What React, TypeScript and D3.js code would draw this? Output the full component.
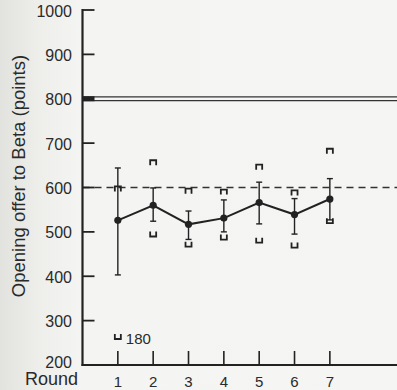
import React from "react";
import * as d3 from "d3";

const rounds = [1, 2, 3, 4, 5, 6, 7];
const means = [526, 560, 517, 531, 566, 539, 574];
const errLow = [403, 524, 483, 500, 518, 495, 527];
const errHigh = [644, 599, 547, 572, 612, 575, 620];
const maxVals = [599, 658, 594, 592, 648, 590, 684];
const minVals = [180, 493, 470, 486, 479, 468, 523];
const yTicks = [200, 300, 400, 500, 600, 700, 800, 900, 1000];
const referenceHigh = 800;
const referenceMid = 600;
const offScaleShownAt = 262; // where the off-scale minimum (180) is drawn
const yLabel = "Opening offer to Beta (points)";
const xLabel = "Round";

const W = 397;
const H = 390;
const FONT = "'Liberation Sans', Arial, Helvetica, sans-serif";
const INK = "#222";

export default function App() {
  const x = d3.scaleLinear().domain([0, 8.9]).range([82.5, 397]);
  const y = d3.scaleLinear().domain([200, 1000]).range([365, 10]);
  const x0 = x(0);
  const line = d3
    .line<number>()
    .x((_, i) => x(rounds[i]))
    .y((d) => y(d));

  const shownMin = (v: number) => (v < 200 ? offScaleShownAt : v);

  return (
    <svg
      width={W}
      height={H}
      style={{ position: "absolute", left: 0, top: 0, display: "block" }}
    >
      <defs>
        <linearGradient id="paper" x1="0" x2="1" y1="0" y2="0">
          <stop offset="0" stopColor="#e2e2de" />
          <stop offset="0.1" stopColor="#eeeeeb" />
          <stop offset="0.2" stopColor="#f4f4f2" />
          <stop offset="1" stopColor="#f5f5f3" />
        </linearGradient>
      </defs>
      <rect x={0} y={0} width={W} height={H} fill="url(#paper)" />

      {/* reference lines */}
      <line x1={x0} x2={W} y1={y(referenceHigh) - 1.8} y2={y(referenceHigh) - 1.8} stroke="#333" strokeWidth={1.3} />
      <line x1={x0} x2={W} y1={y(referenceHigh) + 1.8} y2={y(referenceHigh) + 1.8} stroke="#333" strokeWidth={1.3} />
      <line
        x1={x0}
        x2={W}
        y1={y(referenceMid)}
        y2={y(referenceMid)}
        stroke="#333"
        strokeWidth={1.4}
        strokeDasharray="7 5"
      />

      {/* axes */}
      <line x1={x0} x2={x0} y1={y(1000) - 1} y2={y(200) + 1} stroke={INK} strokeWidth={2.2} />
      <line x1={x0 - 1} x2={W} y1={y(200)} y2={y(200)} stroke={INK} strokeWidth={2} />
      {yTicks.map((t) => (
        <g key={t}>
          {t > 200 && (
            <line
              x1={x0}
              x2={x0 + 12}
              y1={y(t)}
              y2={y(t)}
              stroke={INK}
              strokeWidth={t === referenceHigh ? 5 : 1.8}
            />
          )}
          <text
            x={72}
            y={t === 200 ? y(t) - 3 : y(t) + 1}
            textAnchor="end"
            dominantBaseline="central"
            fontFamily={FONT}
            fontSize={16}
            fill="#2a2a2a"
          >
            {t}
          </text>
        </g>
      ))}
      {rounds.map((r) => (
        <g key={r}>
          <line x1={x(r)} x2={x(r)} y1={y(200)} y2={y(200) - 14} stroke={INK} strokeWidth={1.6} />
          <text
            x={x(r)}
            y={387}
            textAnchor="middle"
            fontFamily={FONT}
            fontSize={15}
            fill="#2a2a2a"
          >
            {r}
          </text>
        </g>
      ))}
      <text x={78} y={385} textAnchor="end" fontFamily={FONT} fontSize={18} fill="#2a2a2a">
        {xLabel}
      </text>
      <text
        transform={`translate(25, 176) rotate(-90)`}
        textAnchor="middle"
        fontFamily={FONT}
        fontSize={18.5}
        fill="#2a2a2a"
      >
        {yLabel}
      </text>

      {/* error bars */}
      {rounds.map((r, i) => (
        <g key={"e" + r} stroke={INK} strokeWidth={1.4} fill="none">
          <line x1={x(r)} x2={x(r)} y1={y(errLow[i])} y2={y(errHigh[i])} />
          <line x1={x(r) - 3} x2={x(r) + 3} y1={y(errLow[i])} y2={y(errLow[i])} />
          <line x1={x(r) - 3} x2={x(r) + 3} y1={y(errHigh[i])} y2={y(errHigh[i])} />
        </g>
      ))}

      {/* max / min brackets */}
      {rounds.map((r, i) => {
        const cx = x(r);
        const ty = y(maxVals[i]);
        const by = y(shownMin(minVals[i]));
        return (
          <g key={"b" + r} stroke={INK} strokeWidth={1.8} fill="none">
            <path d={`M${cx - 3},${ty + 3.5}V${ty - 1.5}H${cx + 3}V${ty + 3.5}`} />
            <path d={`M${cx - 3},${by - 3.5}V${by + 1.5}H${cx + 3}V${by - 3.5}`} />
            {minVals[i] < 200 && (
              <text
                x={cx + 8}
                y={by + 1}
                dominantBaseline="central"
                fontFamily={FONT}
                fontSize={15}
                fill="#2a2a2a"
                stroke="none"
              >
                {minVals[i]}
              </text>
            )}
          </g>
        );
      })}

      {/* means */}
      <path d={line(means) || ""} fill="none" stroke={INK} strokeWidth={2} />
      {rounds.map((r, i) => (
        <circle key={"m" + r} cx={x(r)} cy={y(means[i])} r={3.6} fill={INK} />
      ))}
    </svg>
  );
}
